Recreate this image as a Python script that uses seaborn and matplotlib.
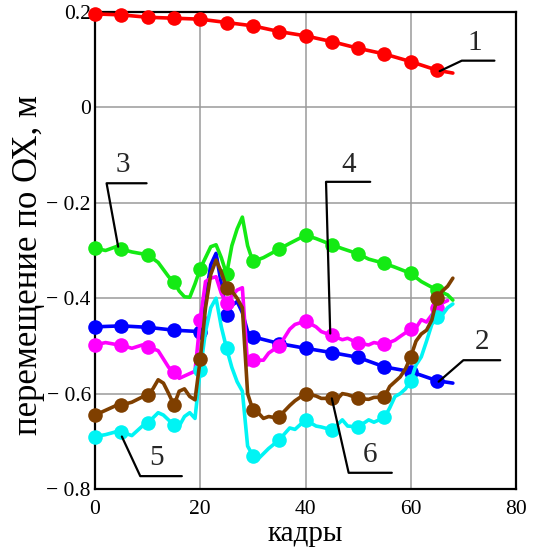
import matplotlib
matplotlib.use("Agg")
import matplotlib.pyplot as plt
import seaborn as sns
import numpy as np
import pandas as pd

# ---------------- data ----------------
x_ticks = [0, 20, 40, 60, 80]
y_ticks = [-0.8, -0.6, -0.4, -0.2, 0.0, 0.2]
y_tick_labels = ["\u2212 0.8", "\u2212 0.6", "\u2212 0.4", "\u2212 0.2", "0", "0.2"]
x_label = "кадры"
y_label = "перемещение по ОХ, м"

s1_frames = [0, 5, 10, 15, 20, 25, 30, 35, 40, 45, 50, 55, 60, 65, 68]
s1_values = [0.196, 0.194, 0.189, 0.187, 0.185, 0.178, 0.171, 0.159, 0.150,
             0.138, 0.124, 0.112, 0.096, 0.078, 0.072]

s2_frames = [0, 5, 10, 15, 20, 21, 22, 23, 24, 25, 26, 27, 28, 29, 30, 35, 40,
             45, 50, 55, 60, 65, 68]
s2_values = [-0.460, -0.458, -0.461, -0.467, -0.470, -0.400, -0.330, -0.306,
             -0.370, -0.435, -0.415, -0.407, -0.430, -0.470, -0.481, -0.495,
             -0.505, -0.514, -0.524, -0.544, -0.554, -0.573, -0.578]

s3_frames = [0, 2, 4, 5, 7, 10, 12, 14, 15, 16, 17, 18, 19, 20, 21, 22, 23, 24,
             25, 26, 27, 28, 29, 30, 32, 35, 37, 40, 42, 45, 47, 50, 52, 55, 57,
             60, 62, 65, 67, 68]
s3_values = [-0.295, -0.300, -0.292, -0.297, -0.303, -0.309, -0.325, -0.355,
             -0.365, -0.385, -0.397, -0.398, -0.370, -0.338, -0.315, -0.292,
             -0.288, -0.315, -0.350, -0.290, -0.255, -0.230, -0.290, -0.323,
             -0.315, -0.297, -0.285, -0.268, -0.275, -0.288, -0.296, -0.307,
             -0.318, -0.327, -0.335, -0.348, -0.365, -0.383, -0.393, -0.404]

s4_frames = [0, 2, 4, 5, 7, 9, 10, 12, 14, 15, 16, 18, 19, 20, 21, 22, 23, 24,
             25, 26, 27, 28, 29, 30, 32, 33, 35, 37, 38, 40, 42, 43, 45, 47, 48,
             50, 52, 53, 55, 57, 58, 60, 61, 62, 63, 65, 66, 67]
s4_values = [-0.498, -0.493, -0.497, -0.498, -0.505, -0.498, -0.502, -0.510,
             -0.545, -0.554, -0.568, -0.558, -0.553, -0.445, -0.365, -0.358,
             -0.355, -0.390, -0.410, -0.395, -0.383, -0.378, -0.540, -0.530,
             -0.530, -0.515, -0.500, -0.465, -0.455, -0.448, -0.460, -0.470,
             -0.478, -0.487, -0.484, -0.494, -0.498, -0.493, -0.497, -0.488,
             -0.480, -0.465, -0.462, -0.445, -0.450, -0.420, -0.410, -0.405]

s5_frames = [0, 2, 4, 5, 7, 9, 10, 12, 13, 15, 16, 17, 18, 19, 20, 21, 22, 23,
             24, 25, 26, 27, 28, 29, 30, 31, 33, 35, 37, 38, 40, 42, 43, 45, 47,
             48, 50, 52, 53, 55, 56, 57, 58, 59, 60, 61, 62, 63, 64, 65, 66, 67,
             68]
s5_values = [-0.690, -0.686, -0.680, -0.680, -0.688, -0.668, -0.662, -0.640,
             -0.645, -0.666, -0.668, -0.648, -0.640, -0.652, -0.550, -0.470,
             -0.420, -0.400, -0.460, -0.505, -0.545, -0.575, -0.595, -0.710,
             -0.730, -0.737, -0.715, -0.697, -0.672, -0.675, -0.655, -0.668,
             -0.670, -0.676, -0.655, -0.668, -0.670, -0.655, -0.660, -0.650,
             -0.630, -0.606, -0.600, -0.590, -0.573, -0.540, -0.523, -0.490,
             -0.455, -0.440, -0.435, -0.420, -0.412]

s6_frames = [0, 2, 4, 5, 7, 9, 10, 11, 12, 13, 14, 15, 16, 17, 18, 19, 20, 21,
             22, 23, 24, 25, 26, 27, 28, 29, 30, 31, 32, 33, 34, 35, 37, 38, 40,
             42, 43, 45, 46, 47, 48, 50, 52, 53, 55, 56, 57, 58, 59, 60, 61, 62,
             63, 64, 65, 66, 67, 68]
s6_values = [-0.645, -0.635, -0.625, -0.624, -0.618, -0.607, -0.603, -0.590,
             -0.571, -0.578, -0.600, -0.624, -0.595, -0.590, -0.606, -0.613,
             -0.528, -0.420, -0.350, -0.320, -0.345, -0.378, -0.385, -0.400,
             -0.420, -0.600, -0.634, -0.640, -0.652, -0.648, -0.650, -0.648,
             -0.625, -0.615, -0.600, -0.605, -0.610, -0.610, -0.612, -0.600,
             -0.602, -0.610, -0.612, -0.608, -0.607, -0.585, -0.575, -0.565,
             -0.548, -0.523, -0.490, -0.475, -0.467, -0.446, -0.400, -0.385,
             -0.375, -0.358]

series = [
    ("1", s1_frames, s1_values, "#ff0000"),
    ("2", s2_frames, s2_values, "#0000ff"),
    ("3", s3_frames, s3_values, "#14ea14"),
    ("4", s4_frames, s4_values, "#ff00ff"),
    ("5", s5_frames, s5_values, "#00f4f4"),
    ("6", s6_frames, s6_values, "#7f3f00"),
]

# leader lines: (label, [x points], [y points], text x, text y)
callouts = [
    ("1", [65.5, 69.7, 75.9], [0.076, 0.098, 0.098], 72.2, 0.135),
    ("2", [65.3, 70.0, 77.0], [-0.575, -0.530, -0.530], 73.5, -0.491),
    ("3", [4.4, 2.2, 9.8], [-0.292, -0.159, -0.159], 5.3, -0.121),
    ("4", [44.7, 43.9, 52.3], [-0.474, -0.156, -0.156], 48.3, -0.121),
    ("5", [5.1, 8.6, 16.5], [-0.690, -0.773, -0.773], 11.7, -0.736),
    ("6", [45.0, 48.2, 56.4], [-0.610, -0.766, -0.766], 52.3, -0.729),
]

# ---------------- plot ----------------
sns.set_theme(style="white")
plt.rcParams["font.family"] = ["Liberation Serif", "DejaVu Serif"]

fig = plt.figure(figsize=(5.38, 5.51), dpi=100)
ax = fig.add_axes([0.1766, 0.1125, 0.7825, 0.8657])

for name, fr, vals, col in series:
    df = pd.DataFrame({"frame": fr, "value": vals})
    mk = [i for i, f in enumerate(fr) if f % 5 == 0]
    sns.lineplot(data=df, x="frame", y="value", ax=ax, color=col,
                 linewidth=2.6, marker="o", markersize=10.5,
                 markeredgewidth=0, markevery=mk, sort=False,
                 estimator=None, clip_on=False, zorder=3)

for lab, xs, ys, tx, ty in callouts:
    ax.plot(xs, ys, color="black", linewidth=1.6, zorder=5)
    ax.text(tx, ty, lab, fontsize=21, ha="center", va="center", zorder=5)

ax.set_xlim(0, 80)
ax.set_ylim(-0.8, 0.2)
ax.set_xticks(x_ticks)
ax.set_xticklabels([str(v) for v in x_ticks])
ax.set_yticks(y_ticks)
ax.set_yticklabels(y_tick_labels)
ax.tick_params(axis="both", length=0, labelsize=15.5, colors="black")
ax.tick_params(axis="x", pad=8)
ax.tick_params(axis="y", pad=3)
ax.grid(True, color="#9a9a9a", linewidth=1.1)
ax.set_axisbelow(True)
for sp in ax.spines.values():
    sp.set_color("black")
    sp.set_linewidth(1.6)

ax.set_xlabel(x_label, fontsize=21, color="black", labelpad=1)
ax.set_ylabel(y_label, fontsize=25, color="black")
ax.yaxis.set_label_coords(-0.118, 0.47)

fig.savefig("out.png", dpi=100)
